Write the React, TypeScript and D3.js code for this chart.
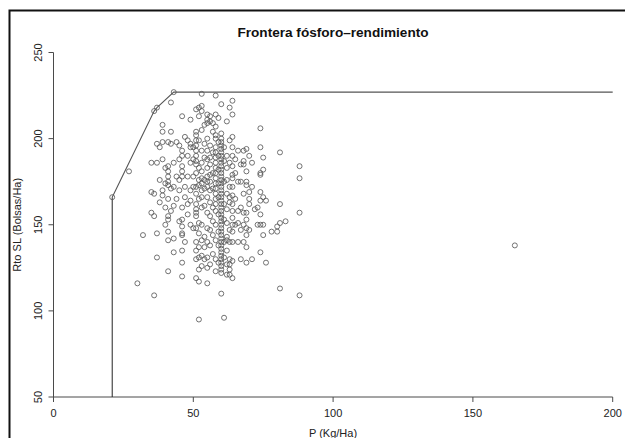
import React from 'react'
import * as d3 from 'd3'

// P (Kg/Ha) columns and the Rto SL values read at each of them
const colP = [21, 27, 30, 32, 35, 36, 37, 38, 39, 40, 41, 42, 43, 44, 45, 46, 47, 48, 49, 50,
  51, 52, 53, 54, 55, 56, 57, 58, 59, 60, 61, 62, 63, 64, 65, 66, 67, 68, 69, 70,
  71, 72, 73, 74, 75, 76, 78, 80, 81, 83, 88, 165]
const colRto = [
  [166],
  [181],
  [116],
  [144],
  [186, 169, 157],
  [216, 168, 155, 109],
  [218, 197, 186, 145, 131],
  [195, 176, 163],
  [208, 204, 198, 188, 170, 167],
  [183, 174, 160, 150],
  [198, 184, 181, 178, 175, 173, 165, 155, 153, 146, 141, 123],
  [221, 204, 197, 171, 158],
  [227, 186, 172, 161, 142, 134],
  [198, 178, 165],
  [196, 188, 176, 170, 152],
  [213, 193, 190, 184, 181, 178, 160, 153, 149, 145, 144, 135, 128, 120],
  [201, 172, 166, 140],
  [199, 190, 178, 162, 156],
  [211, 197, 195, 186, 170, 164, 150],
  [195, 188, 178, 172, 148],
  [217, 204, 202, 199, 196, 193, 190, 187, 185, 180, 172, 168, 162, 159, 157, 155, 148, 140, 135, 130, 119],
  [218, 213, 199, 183, 176, 173, 165, 151, 145, 137, 131, 124, 117, 95],
  [226, 219, 216, 205, 193, 186, 181, 177, 174, 170, 166, 160, 150, 141, 132, 126],
  [208, 197, 189, 176, 171, 161, 143, 137, 130],
  [214, 211, 209, 200, 193, 188, 183, 178, 175, 172, 166, 157, 148, 140, 131, 125, 116],
  [213, 210, 196, 189, 185, 179, 175, 170, 163, 155, 147, 138, 127],
  [209, 204, 192, 180, 171, 160, 152, 144, 133],
  [225, 214, 207, 202, 200, 195, 192, 189, 186, 183, 180, 177, 174, 171, 168, 165, 162, 158, 150, 141, 130, 123],
  [212, 198, 190, 182, 174, 166, 156, 146, 138, 128],
  [220, 203, 200, 198, 196, 194, 192, 190, 188, 186, 184, 182, 180, 178, 176, 174, 172, 170, 168, 166, 164,
    162, 160, 158, 156, 154, 152, 150, 148, 146, 144, 142, 140, 138, 136, 134, 132, 130, 128, 126, 124, 122, 110],
  [195, 187, 175, 162, 153, 140, 131, 96],
  [210, 190, 183, 176, 168, 159, 151, 143, 141, 135, 127, 121],
  [218, 199, 186, 172, 166, 163, 147, 140, 130, 127, 124, 121],
  [222, 214, 201, 195, 190, 184, 179, 177, 172, 167, 162, 158, 154, 150, 146, 140, 129, 119],
  [188, 180, 165, 150],
  [193, 175, 158, 151, 140],
  [185, 175, 160, 147, 130],
  [193, 187, 185, 168, 157, 150, 140],
  [194, 181, 175, 173, 157, 153, 148, 144, 137, 128],
  [190, 169, 165, 162, 147],
  [186, 172, 130],
  [159],
  [160, 150],
  [206, 195, 180, 179, 169, 164, 156, 150, 134],
  [189, 182, 166, 150, 144],
  [164, 128],
  [146],
  [149, 146],
  [192, 162, 151, 113],
  [152],
  [184, 177, 157, 109],
  [138],
]

// frontier (vertical drop at the start, then the envelope)
const dropP = [21, 21]
const dropRto = [50, 166]
const frontP = [21, 36, 37, 43, 200]
const frontRto = [166, 216, 218, 227, 227]

const xTicks = [0, 50, 100, 150, 200]
const yTicks = [50, 100, 150, 200, 250]

const W = 625
const H = 438

export default function App() {
  const x = d3.scaleLinear().domain([0, 200]).range([53.5, 612.7])
  const y = d3.scaleLinear().domain([50, 250]).range([397, 52.5])

  const points: { p: number; r: number }[] = []
  colP.forEach((p, i) => colRto[i].forEach(r => points.push({ p, r })))

  const line = d3.line<[number, number]>().x(d => x(d[0])).y(d => y(d[1]))
  const drop = dropP.map((p, i) => [p, dropRto[i]] as [number, number])
  const frontier = frontP.map((p, i) => [p, frontRto[i]] as [number, number])

  const font = '"Liberation Sans", Arial, sans-serif'
  const axisCol = '#4a4a4a'

  return (
    <svg width={W} height={H} style={{ position: 'absolute', left: 0, top: 0, background: '#fff' }}
      fontFamily={font}>
      <rect x={9.5} y={10.5} width={W + 20} height={H + 20} fill="none" stroke="#111" strokeWidth={2} />

      <text x={333} y={37} textAnchor="middle" fontWeight="bold" fontSize={13.6} fill="#111">
        Frontera fósforo–rendimiento
      </text>

      {/* y axis */}
      <line x1={53.5} x2={53.5} y1={y(50)} y2={y(250)} stroke={axisCol} strokeWidth={1} />
      {yTicks.map(t => (
        <g key={'y' + t}>
          <line x1={48.5} x2={53.5} y1={y(t)} y2={y(t)} stroke={axisCol} strokeWidth={1} />
          <text transform={`translate(42,${y(t)}) rotate(-90)`} textAnchor="middle" fontSize={11} fill="#222">{t}</text>
        </g>
      ))}

      {/* x axis */}
      <line x1={x(0)} x2={x(200)} y1={397} y2={397} stroke={axisCol} strokeWidth={1} />
      {xTicks.map(t => (
        <g key={'x' + t}>
          <line x1={x(t)} x2={x(t)} y1={397} y2={402} stroke={axisCol} strokeWidth={1} />
          <text x={x(t)} y={417} textAnchor="middle" fontSize={11} fill="#222">{t}</text>
        </g>
      ))}

      <text x={333} y={437} textAnchor="middle" fontSize={11} fill="#222">P (Kg/Ha)</text>
      <text transform={`translate(20.5,${(y(50) + y(250)) / 2}) rotate(-90)`} textAnchor="middle" fontSize={11} fill="#222">
        Rto SL (Bolsas/Ha)
      </text>

      <path d={line(drop) || ''} fill="none" stroke="#222" strokeWidth={1} />
      <path d={line(frontier) || ''} fill="none" stroke="#555" strokeWidth={1.1} />

      {points.map((d, i) => (
        <circle key={i} cx={x(d.p)} cy={y(d.r)} r={2.5} fill="none" stroke="#5a5a5a" strokeWidth={0.85} />
      ))}
    </svg>
  )
}
